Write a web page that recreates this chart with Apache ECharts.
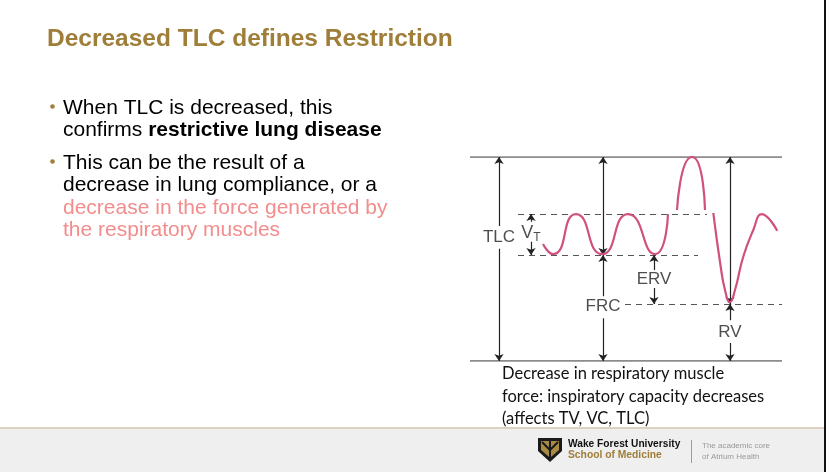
<!doctype html>
<html>
<head>
	<meta charset="UTF-8">
	<title>Decreased TLC defines Restriction</title>
	<script src="https://cdn.jsdelivr.net/npm/echarts@6/dist/echarts.min.js"></script>
	<style>
		html, body {
			margin: 0;
			padding: 0;
			background: #fff;
		}
		#chart {
			width: 834px;
			height: 472px;
		}
	</style>
</head>
<body>
<div id="chart"></div>
<script>
	// lung volumes (L) and time (s)
	var tlc = 5.0, vtTop = 3.6, frc = 2.6, rv = 1.4;
	var timeMax = 31.2;

	// the trace, in three pieces
	var quietBreaths = [[7.3, 2.87], [8.3, 2.62], [10.6, 3.6], [13.2, 2.62], [15.8, 3.6], [18.5, 2.62], [19.8, 3.6]];
	var maxInspiration = [[20.7, 3.7], [22.2, 5.0], [23.5, 3.7]];
	var maxExpiration = [[24.33, 3.63], [25.07, 2.31], [25.5, 1.74], [25.98, 1.44], [26.5, 1.74],
		[27.33, 2.56], [28.33, 3.21], [29.17, 3.6], [30.73, 3.19]];

	// levels
	var solidLevels = [[[0, tlc], [timeMax, tlc]], [[0, 0], [timeMax, 0]]];
	var dashedLevels = [[[4.8, vtTop], [23.7, vtTop]], [[4.8, frc], [22.8, frc]], [[15.5, rv], [timeMax, rv]]];

	// arrows: double headed, and single headed (head at the end)
	var doubleArrows = [[[13.3, tlc], [13.3, frc]], [[26.0, tlc], [26.0, rv]]];
	var singleArrows = [
		[[2.9, 3.31], [2.9, tlc]], [[2.9, 2.75], [2.9, 0]],
		[[6.1, 3.41], [6.1, vtTop]], [[6.1, 2.92], [6.1, frc]],
		[[13.3, 1.59], [13.3, frc]], [[13.3, 1.05], [13.3, 0]],
		[[18.4, 2.23], [18.4, frc]], [[18.4, 1.79], [18.4, rv]],
		[[26.0, 1.0], [26.0, rv]], [[26.0, 0.44], [26.0, 0]]
	];

	var volumeNames = ['TLC', '{v|V}{t|T}', 'FRC', 'ERV', 'RV'];
	var volumeLabelPos = [[2.9, 3.03], [6.1, 3.14], [13.3, 1.35], [18.4, 1.99], [26.0, 0.71]];

	var pink = '#d0507f';
	var gold = '#9e7e38';
	var font = '"Liberation Sans", Arial, sans-serif';

	function traceSeries(data, smooth) {
		return {
			type: 'line',
			data: data,
			smooth: smooth,
			symbol: 'none',
			lineStyle: {color: pink, width: 2.2},
			z: 5
		};
	}

	function levelSeries(lines, dashed) {
		return {
			type: 'lines',
			coordinateSystem: 'cartesian2d',
			data: lines.map(function (c) { return {coords: c}; }),
			lineStyle: {
				color: dashed ? '#555' : '#666',
				width: dashed ? 1.1 : 1.5,
				type: dashed ? [6, 5] : 'solid',
				opacity: 1
			},
			silent: true,
			z: 2
		};
	}

	var chart = echarts.init(document.getElementById('chart'));
	chart.setOption({
		animation: false,
		title: {
			text: 'Decreased TLC defines Restriction',
			left: 47,
			top: 26.5,
			padding: 0,
			textStyle: {fontFamily: font, fontSize: 24.5, fontWeight: 'bold', color: gold}
		},
		grid: {left: 470, right: 52, top: 157, bottom: 111},
		xAxis: {type: 'value', min: 0, max: timeMax, show: false},
		yAxis: {type: 'value', min: 0, max: tlc, show: false},
		series: [
			levelSeries(solidLevels, false),
			levelSeries(dashedLevels, true),
			{
				type: 'lines',
				coordinateSystem: 'cartesian2d',
				data: doubleArrows.map(function (c) { return {coords: c}; }),
				symbol: ['arrow', 'arrow'],
				symbolSize: 7,
				lineStyle: {color: '#222', width: 1.2, opacity: 1},
				z: 3
			},
			{
				type: 'lines',
				coordinateSystem: 'cartesian2d',
				data: singleArrows.map(function (c) { return {coords: c}; }),
				symbol: ['none', 'arrow'],
				symbolSize: 7,
				lineStyle: {color: '#222', width: 1.2, opacity: 1},
				z: 3
			},
			traceSeries(quietBreaths, 0.62),
			traceSeries(maxInspiration, 0.85),
			traceSeries(maxExpiration, 0.5),
			{
				type: 'scatter',
				data: volumeLabelPos,
				symbolSize: 0,
				silent: true,
				label: {
					show: true,
					position: 'inside',
					formatter: function (p) { return volumeNames[p.dataIndex]; },
					fontFamily: font,
					fontSize: 17,
					color: '#222',
					rich: {
						v: {fontFamily: font, fontSize: 18, color: '#222'},
						t: {fontFamily: font, fontSize: 12, color: '#222', verticalAlign: 'bottom', padding: [9, 0, 0, 0]}
					}
				},
				z: 6
			}
		],
		graphic: [
			// slide footer
			{type: 'rect', shape: {x: 0, y: 428, width: 825, height: 44}, style: {fill: '#efefef'}, silent: true},
			{type: 'line', shape: {x1: 0, y1: 428, x2: 825, y2: 428}, style: {stroke: '#dcd2c2', lineWidth: 2}},
			{type: 'line', shape: {x1: 825, y1: 0, x2: 825, y2: 472}, style: {stroke: '#111', lineWidth: 2}},
			// bullets
			{type: 'circle', shape: {cx: 52.5, cy: 106.5, r: 2.3}, style: {fill: gold}},
			{type: 'circle', shape: {cx: 52.5, cy: 161.5, r: 2.3}, style: {fill: gold}},
			{
				type: 'text', left: 63, top: 96.5,
				style: {
					text: 'When TLC is decreased, this\nconfirms {b|restrictive lung disease}',
					font: '21px ' + font, fill: '#000', lineHeight: 22.5,
					rich: {b: {fontFamily: font, fontSize: 21, fontWeight: 'bold', fill: '#000', lineHeight: 22.5}}
				}
			},
			{
				type: 'text', left: 63, top: 151.5,
				style: {
					text: 'This can be the result of a\ndecrease in lung compliance, or a\n{p|decrease in the force generated by}\n{p|the respiratory muscles}',
					font: '21px ' + font, fill: '#000', lineHeight: 22.5,
					rich: {p: {fontFamily: font, fontSize: 21, fill: '#f38c8c', lineHeight: 22.5}}
				}
			},
			// caption under the spirogram
			{
				type: 'text', left: 502, top: 362.5,
				style: {
					text: 'Decrease in respiratory muscle\nforce: inspiratory capacity decreases\n(affects TV, VC, TLC)',
					font: '16.5px Lato, "Noto Sans", sans-serif', fill: '#111', lineHeight: 22.5
				}
			},
			// logo block
			{
				type: 'polygon',
				shape: {points: [[538, 438], [562, 438], [562, 451], [550, 462], [538, 451]]},
				style: {fill: '#1a1a1a'}
			},
			{
				type: 'polygon',
				shape: {points: [[541, 441], [549, 441], [549, 457], [541, 450]]},
				style: {fill: '#a88a45'}
			},
			{
				type: 'polygon',
				shape: {points: [[551, 441], [559, 441], [559, 450], [551, 457]]},
				style: {fill: '#a88a45'}
			},
			{
				type: 'polyline',
				shape: {points: [[542, 442], [550, 450], [558, 442]]},
				style: {stroke: '#1a1a1a', lineWidth: 2, fill: null}
			},
			{
				type: 'line', shape: {x1: 550, y1: 449, x2: 550, y2: 460},
				style: {stroke: '#1a1a1a', lineWidth: 2}
			},
			{
				type: 'text', left: 568, top: 439,
				style: {text: 'Wake Forest University', font: 'bold 10.2px ' + font, fill: '#111'}
			},
			{
				type: 'text', left: 568, top: 450,
				style: {text: 'School of Medicine', font: 'bold 10.3px ' + font, fill: gold}
			},
			{type: 'line', shape: {x1: 691.5, y1: 440, x2: 691.5, y2: 463}, style: {stroke: '#b59a5e', lineWidth: 1}},
			{
				type: 'text', left: 702, top: 441,
				style: {text: 'The academic core\nof Atrium Health', font: '8px ' + font, fill: '#999', lineHeight: 10.5}
			}
		]
	});
</script>
</body>
</html>
